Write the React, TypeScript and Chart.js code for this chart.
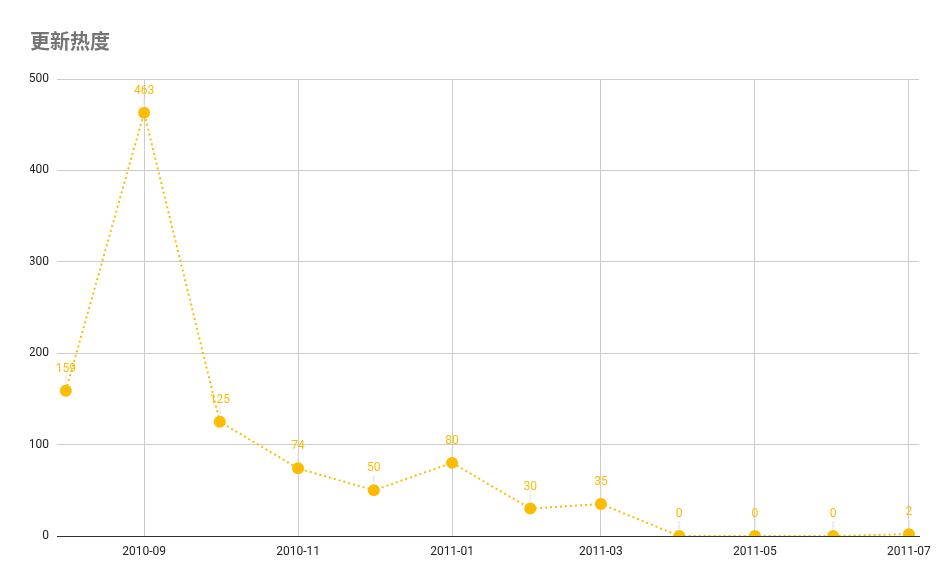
import React, { useEffect, useRef } from "react";
import { Chart, registerables } from "chart.js";

Chart.register(...registerables);

const title = "更新热度";
const months = [
  "2010-08", "2010-09", "2010-10", "2010-11", "2010-12", "2011-01",
  "2011-02", "2011-03", "2011-04", "2011-05", "2011-06", "2011-07",
];
const values = [159, 463, 125, 74, 50, 80, 30, 35, 0, 0, 0, 2];
const tickLabels = ["2010-09", "2010-11", "2011-01", "2011-03", "2011-05", "2011-07"];
const yTicks = [0, 100, 200, 300, 400, 500];

const toDay = (s: string) => {
  const [y, m] = s.split("-").map(Number);
  return Date.UTC(y, m - 1, 1) / 86400000;
};

const YELLOW = "#fbbc04";

const dataLabelPlugin = {
  id: "dataLabels",
  afterDatasetsDraw(chart: any) {
    const ctx = chart.ctx;
    const meta = chart.getDatasetMeta(0);
    const ds = chart.data.datasets[0];
    ctx.save();
    meta.data.forEach((pt: any, i: number) => {
      const v = ds.data[i].y;
      const x = pt.x;
      const y = pt.y;
      ctx.strokeStyle = "rgba(225,225,225,0.6)";
      ctx.lineWidth = 2;
      ctx.beginPath();
      ctx.moveTo(x, y - 15);
      ctx.lineTo(x, y - 7);
      ctx.stroke();
      ctx.fillStyle = YELLOW;
      ctx.font = "12px Roboto";
      ctx.textAlign = "center";
      ctx.textBaseline = "middle";
      ctx.fillText(String(v), x, y - 22);
    });
    ctx.restore();
  },
};

export default function App() {
  const ref = useRef<HTMLCanvasElement | null>(null);
  useEffect(() => {
    if (!ref.current) return;
    const days = months.map(toDay);
    const tickDays = tickLabels.map(toDay);
    const chart = new Chart(ref.current, {
      type: "line",
      data: {
        datasets: [
          {
            label: title,
            data: months.map((m, i) => ({ x: days[i], y: values[i] })),
            borderColor: YELLOW,
            backgroundColor: YELLOW,
            borderWidth: 2,
            borderDash: [2, 3],
            pointRadius: 6,
            pointHoverRadius: 6,
            pointBorderWidth: 0,
            pointBackgroundColor: YELLOW,
            tension: 0,
            clip: 0,
          } as any,
        ],
      },
      options: {
        animation: false,
        responsive: false,
        devicePixelRatio: 1,
        layout: { padding: { left: 30, right: 30, top: 0, bottom: 20 } },
        font: { family: "Roboto" },
        plugins: {
          legend: { display: false },
          tooltip: { enabled: false },
          title: {
            display: true,
            text: title,
            align: "start",
            color: "#757575",
            font: { size: 20, weight: "bold", family: "Roboto, 'Noto Sans CJK SC'" },
            padding: { top: 32, bottom: 23 },
          },
        },
        scales: {
          x: {
            type: "linear",
            min: days[0] - 3.5,
            max: days[days.length - 1] + 4,
            afterBuildTicks: (scale: any) => {
              scale.ticks = tickDays.map((v) => ({ value: v }));
            },
            afterFit: (scale: any) => {
              scale.height = 30;
            },
            ticks: {
              autoSkip: false,
              maxRotation: 0,
              padding: 9,
              color: "#222",
              font: { size: 12, family: "Roboto" },
              callback: (_v: any, i: number) => tickLabels[i],
            },
            grid: { color: "#cccccc", drawTicks: false, lineWidth: 1 },
            border: { display: true, color: "#333333", width: 1 },
          },
          y: {
            min: 0,
            max: 500,
            afterBuildTicks: (scale: any) => {
              scale.ticks = yTicks.map((v) => ({ value: v }));
            },
            afterFit: (scale: any) => {
              scale.width = 27;
            },
            ticks: {
              padding: 8,
              color: "#222",
              font: { size: 12, family: "Roboto" },
              callback: (v: any) => String(v),
            },
            grid: {
              drawTicks: false,
              color: (c: any) => (c.tick && c.tick.value === 0 ? "#333333" : "#cccccc"),
            },
            border: { display: false },
          },
        },
      } as any,
      plugins: [dataLabelPlugin],
    });
    return () => chart.destroy();
  }, []);
  return (
    <div style={{ position: "absolute", left: 0, top: 0, width: 949, height: 586, background: "#fff" }}>
      <canvas ref={ref} width={949} height={586} />
    </div>
  );
}
